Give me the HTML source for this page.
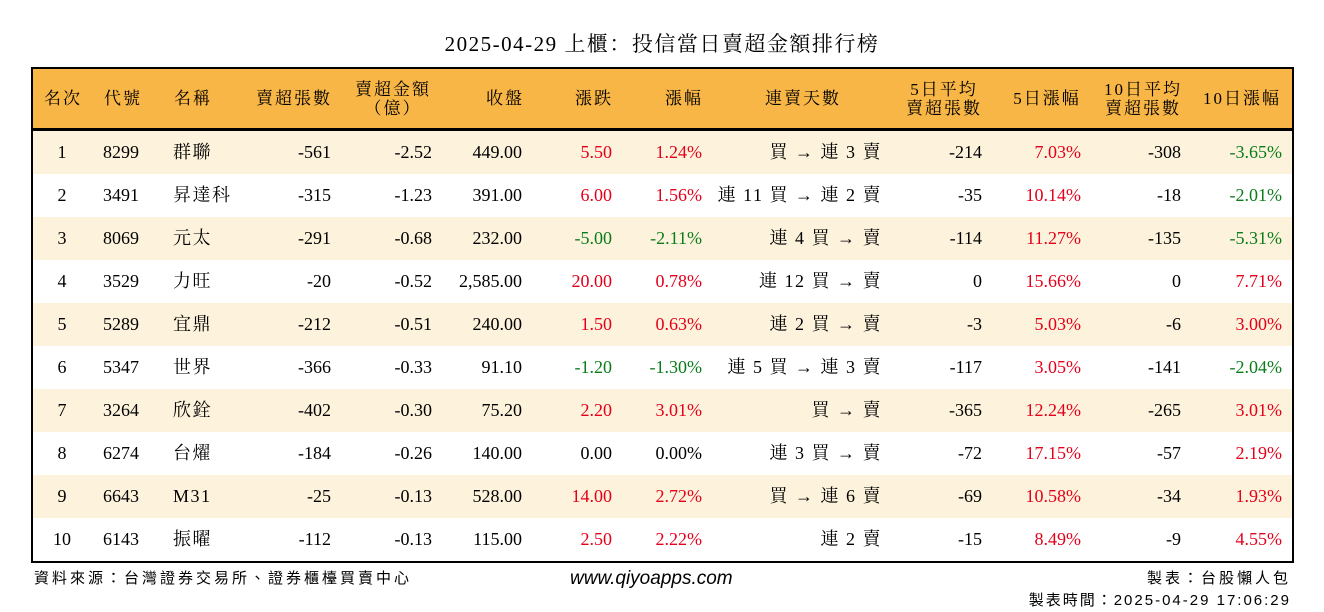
<!DOCTYPE html>
<html><head><meta charset="utf-8">
<style>
body{margin:0;width:1324px;height:612px;background:#fff;font-family:"Liberation Serif","Noto Serif CJK SC","Noto Sans CJK TC",serif;color:#000;position:relative;overflow:hidden}
.abs{position:absolute;white-space:nowrap}
#title{left:0;width:1324px;top:28px;text-align:center;font-size:21px;letter-spacing:1.5px}
#tbl{left:31px;top:67px;width:1259px;height:492px;border:2px solid #000;overflow:hidden}
#hdr{left:0;top:0;width:1259px;height:59px;background:#F8B646;border-bottom:3px solid #000}
.row{left:0;width:1259px;height:43px}
.c{position:absolute;font-size:18px;line-height:43px;white-space:nowrap}
.sp{letter-spacing:1.5px}
.h{position:absolute;font-size:17px;line-height:19px;white-space:nowrap;text-align:center;letter-spacing:2px}
.red{color:#e4001b}.grn{color:#0a7d1a}
.foot{font-size:15px;font-family:"Liberation Sans","Noto Sans CJK TC",sans-serif;letter-spacing:3px}
</style></head><body>
<div id="title" class="abs">2025-04-29 上櫃：投信當日賣超金額排行榜</div>
<div id="tbl" class="abs">
<div id="hdr" class="abs"></div>
</div>
<div class="abs foot" style="left:34px;top:567px">資料來源：台灣證券交易所、證券櫃檯買賣中心</div>
<div class="abs" style="left:570px;top:568px;font-size:19px;font-style:italic;font-family:'Liberation Sans',sans-serif">www.qiyoapps.com</div>
<div class="abs foot" style="right:33px;top:567px">製表：台股懶人包</div>
<div class="abs foot" style="right:33px;top:589px;letter-spacing:2px">製表時間：2025-04-29 17:06:29</div>
<script>
const codes=["8299","3491","8069","3529","5289","5347","3264","6274","6643","6143"];
const names=["群聯","昇達科","元太","力旺","宜鼎","世界","欣銓","台燿","M31","振曜"];
const sellVol=["-561","-315","-291","-20","-212","-366","-402","-184","-25","-112"];
const sellAmt=["-2.52","-1.23","-0.68","-0.52","-0.51","-0.33","-0.30","-0.26","-0.13","-0.13"];
const closes=["449.00","391.00","232.00","2,585.00","240.00","91.10","75.20","140.00","528.00","115.00"];
const changes=["5.50","6.00","-5.00","20.00","1.50","-1.20","2.20","0.00","14.00","2.50"];
const pcts=["1.24%","1.56%","-2.11%","0.78%","0.63%","-1.30%","3.01%","0.00%","2.72%","2.22%"];
const streaks=["買 → 連 3 賣","連 11 買 → 連 2 賣","連 4 買 → 賣","連 12 買 → 賣","連 2 買 → 賣","連 5 買 → 連 3 賣","買 → 賣","連 3 買 → 賣","買 → 連 6 賣","連 2 賣"];
const avg5=["-214","-35","-114","0","-3","-117","-365","-72","-69","-15"];
const pct5=["7.03%","10.14%","11.27%","15.66%","5.03%","3.05%","12.24%","17.15%","10.58%","8.49%"];
const avg10=["-308","-18","-135","0","-6","-141","-265","-57","-34","-9"];
const pct10=["-3.65%","-2.01%","-5.31%","7.71%","3.00%","-2.04%","3.01%","2.19%","1.93%","4.55%"];
const tbl=document.getElementById('tbl'),hdr=document.getElementById('hdr');
const OX=33;
function col(v){const n=parseFloat(String(v).replace(/,/g,''));return n>0?'red':(n<0?'grn':'');}
const heads=[["名次",63],["代號",123],["名稱",193],["賣超張數",294],["賣超金額<br>（億）",393],["收盤",505],["漲跌",594],["漲幅",684],["連賣天數",803],["5日平均<br>賣超張數",944],["5日漲幅",1047],["10日平均<br>賣超張數",1143],["10日漲幅",1242]];
heads.forEach(h=>{const d=document.createElement('div');d.className='h';d.innerHTML=h[0];
d.style.left=(h[1]-OX-60)+'px';d.style.width='120px';
const two=h[0].includes('<br>');d.style.top=(two?11:20)+'px';


hdr.appendChild(d);});
for(let i=0;i<10;i++){
 const r=document.createElement('div');r.className='abs row';r.style.top=(62+i*43)+'px';
 r.style.background=i%2==0?'#FDF2DB':'#fff';
 
 
 const cells=[[String(i+1),62,'c',''],[codes[i],103,'l',''],[names[i],173,'l','sp'],[sellVol[i],331,'r',''],[sellAmt[i],432,'r',''],[closes[i],522,'r',''],[changes[i],612,'r',col(changes[i])],[pcts[i],702,'r',col(pcts[i])],[streaks[i],880,'r','sp'],[avg5[i],982,'r',''],[pct5[i],1081,'r',col(pct5[i])],[avg10[i],1181,'r',''],[pct10[i],1282,'r',col(pct10[i])]];
 cells.forEach(c=>{const d=document.createElement('div');d.className='c '+c[3];d.textContent=c[0];
  const x=c[1]-OX;
  if(c[2]=='l'){d.style.left=x+'px';}
  else if(c[2]=='r'){d.style.right=(1259-x-(c[3]=='sp'?2:0))+'px';}
  else{d.style.left=(x-30)+'px';d.style.width='60px';d.style.textAlign='center';}
  
  
  r.appendChild(d);});
 tbl.appendChild(r);
}
</script>
</body></html>
